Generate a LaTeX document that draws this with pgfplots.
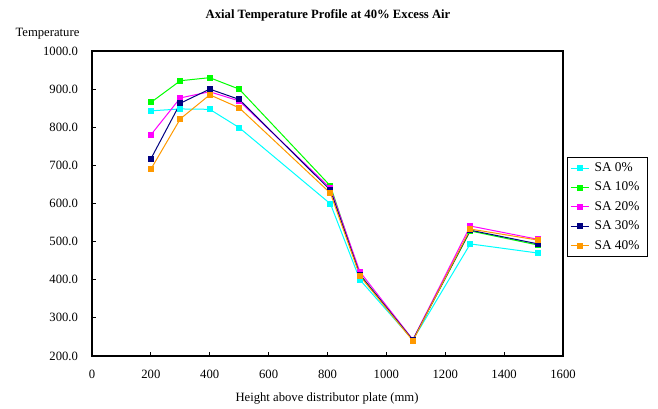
\documentclass[border=0pt]{standalone}
\usepackage{fontspec}
\setmainfont{Liberation Serif}
\usepackage{pgfplots}
\pgfplotsset{compat=1.18}
\definecolor{cSA0}{RGB}{0,255,255}
\definecolor{cSA10}{RGB}{0,255,0}
\definecolor{cSA20}{RGB}{255,0,255}
\definecolor{cSA30}{RGB}{0,0,128}
\definecolor{cSA40}{RGB}{255,153,0}
\begin{document}
\begin{tikzpicture}
\useasboundingbox (-69pt,-39.75pt) rectangle (424.5pt,267pt);
\begin{axis}[
  scale only axis,
  width=353.25pt, height=228.75pt,
  at={(0,0)}, anchor=south west,
  xmin=0, xmax=1600, ymin=200, ymax=1000,
  xtick={0,200,...,1600}, ytick={200,300,...,1000},
  tick align=inside, major tick length=3pt,
  xtick pos=bottom, ytick pos=left,
  axis line style={black, line width=0.8pt},
  every tick/.style={black, line width=0.6pt},
  font=\fontsize{9.5pt}{11pt}\selectfont,
  /pgf/number format/assume math mode=true,
  xticklabel style={/pgf/number format/1000 sep={}, yshift=-7pt},
  yticklabel style={/pgf/number format/.cd, fixed, fixed zerofill, precision=1, 1000 sep={}, /tikz/.cd, xshift=-7pt},
  legend style={at={(1.0085,0.6525)}, anchor=north west, draw=black, line width=0.6pt,
     font=\fontsize{10pt}{11pt}\selectfont, row sep=2.4pt, inner sep=2pt,
     nodes={inner xsep=4pt}},
  legend cell align=left,
  legend image code/.code={\draw[mark repeat=2, mark phase=2] plot coordinates {(0cm,0cm)(0.24cm,0cm)(0.48cm,0cm)};},
  every axis plot/.append style={line width=0.75pt, mark=square*, mark size=1.9pt},
]
\addplot[color=cSA0, mark options={fill=cSA0}] coordinates {(200,843)(300,848)(400,847)(500,799)(810,599)(910,400)(1090,242)(1285,494)(1515,470)};
\addlegendentry{SA 0\%}
\addplot[color=cSA10, mark options={fill=cSA10}] coordinates {(200,865)(300,922)(400,930)(500,900)(810,646)(910,414)(1090,242)(1285,528)(1515,491)};
\addlegendentry{SA 10\%}
\addplot[color=cSA20, mark options={fill=cSA20}] coordinates {(200,780)(300,877)(400,893)(500,869)(810,640)(910,421)(1090,243)(1285,541)(1515,506)};
\addlegendentry{SA 20\%}
\addplot[color=cSA30, mark options={fill=cSA30}] coordinates {(200,717)(300,863)(400,900)(500,873)(810,635)(910,413)(1090,242)(1285,530)(1515,494)};
\addlegendentry{SA 30\%}
\addplot[color=cSA40, mark options={fill=cSA40}] coordinates {(200,690)(300,822)(400,885)(500,851)(810,627)(910,410)(1090,240)(1285,533)(1515,504)};
\addlegendentry{SA 40\%}
\end{axis}
\node[font=\bfseries\fontsize{9.5pt}{11pt}\selectfont] at (177pt,255.75pt) {Axial Temperature Profile at 40\% Excess Air};
\node[font=\fontsize{9.5pt}{11pt}\selectfont] at (-33.4pt,241.5pt) {Temperature};
\node[font=\fontsize{9.5pt}{11pt}\selectfont] at (176.25pt,-31.5pt) {Height above distributor plate (mm)};
\end{tikzpicture}
\end{document}
